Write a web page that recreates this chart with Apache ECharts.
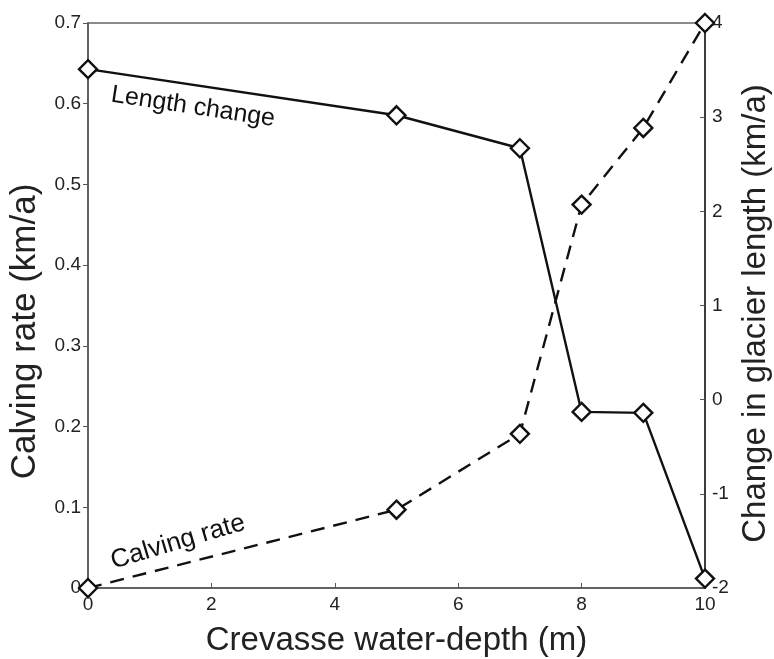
<!DOCTYPE html>
<html><head><meta charset="utf-8">
<script src="https://cdn.jsdelivr.net/npm/echarts@6/dist/echarts.min.js"></script>
<style>html,body{margin:0;padding:0;background:#fff}#c{width:774px;height:659px}</style>
</head><body><div id="c"></div>
<script>
const depth = [0, 5, 7, 8, 9, 10];
const calvingRate = [0, 0.097, 0.191, 0.475, 0.570, 0.700];
const lengthChange = [3.51, 3.02, 2.67, -0.13, -0.14, -1.90];
const xTicks = [0, 2, 4, 6, 8, 10];
const leftTicks = [0, 0.1, 0.2, 0.3, 0.4, 0.5, 0.6, 0.7];
const rightTicks = [-2, -1, 0, 1, 2, 3, 4];

const F = 'Liberation Sans, Arial, Helvetica, sans-serif';
const chart = echarts.init(document.getElementById('c'));
const marker = {symbol: 'diamond', symbolSize: [18, 18], itemStyle: {color: '#fff', borderColor: '#111', borderWidth: 2.4}};
chart.setOption({
  animation: false,
  grid: {left: 88, right: 69, top: 23, bottom: 71, outerBoundsMode: 'none', containLabel: false,
         show: true, borderColor: '#666', borderWidth: 1.5, backgroundColor: 'transparent'},
  xAxis: {
    type: 'value', min: 0, max: 10, interval: 2,
    name: 'Crevasse water-depth (m)', nameLocation: 'middle', nameGap: 36,
    nameTextStyle: {fontFamily: F, fontSize: 33, color: '#222'},
    axisLine: {lineStyle: {color: '#555', width: 1.5}},
    axisTick: {inside: true, length: 5, lineStyle: {color: '#555'}},
    axisLabel: {fontFamily: F, fontSize: 19, color: '#222', margin: 7, formatter: v => String(v)},
    splitLine: {show: false}
  },
  yAxis: [{
    type: 'value', min: 0, max: 0.7, interval: 0.1, position: 'left',
    name: 'Calving rate (km/a)', nameLocation: 'middle', nameGap: 45,
    nameTextStyle: {fontFamily: F, fontSize: 35, color: '#222', padding: [0, 52, 0, 0]},
    axisLine: {show: true, lineStyle: {color: '#555', width: 1.5}},
    axisTick: {show: true, inside: false, length: 5, lineStyle: {color: '#555'}},
    axisLabel: {fontFamily: F, fontSize: 19, color: '#222', margin: 7, formatter: v => v === 0 ? '0' : v.toFixed(1)},
    splitLine: {show: false}
  }, {
    type: 'value', min: -2, max: 4, interval: 1, position: 'right',
    name: 'Change in glacier length (km/a)', nameLocation: 'middle', nameGap: 32, nameRotate: 90,
    nameTextStyle: {fontFamily: F, fontSize: 33, color: '#222', padding: [0, 16, 0, 0]},
    axisLine: {show: true, lineStyle: {color: '#222', width: 1.5}},
    axisTick: {show: true, inside: true, length: 5, lineStyle: {color: '#555'}},
    axisLabel: {fontFamily: F, fontSize: 19, color: '#222', margin: 7, formatter: v => String(v)},
    splitLine: {show: false}
  }],
  series: [{
    type: 'line', yAxisIndex: 1, data: depth.map((d, i) => [d, lengthChange[i]]),
    lineStyle: {color: '#111', width: 2.4}, ...marker, showAllSymbol: true, z: 3
  }, {
    type: 'line', yAxisIndex: 0, data: depth.map((d, i) => [d, calvingRate[i]]),
    lineStyle: {color: '#111', width: 2.4, type: [14, 9]}, ...marker, showAllSymbol: true, z: 3
  }],
  graphic: [{
    type: 'text', x: 193, y: 107, rotation: -0.15,
    style: {text: 'Length change', fontFamily: F, fontSize: 25, fill: '#111', align: 'center', verticalAlign: 'middle'}
  }, {
    type: 'text', x: 178, y: 542, rotation: 0.29,
    style: {text: 'Calving rate', fontFamily: F, fontSize: 26, fill: '#111', align: 'center', verticalAlign: 'middle'}
  }]
});
</script></body></html>
